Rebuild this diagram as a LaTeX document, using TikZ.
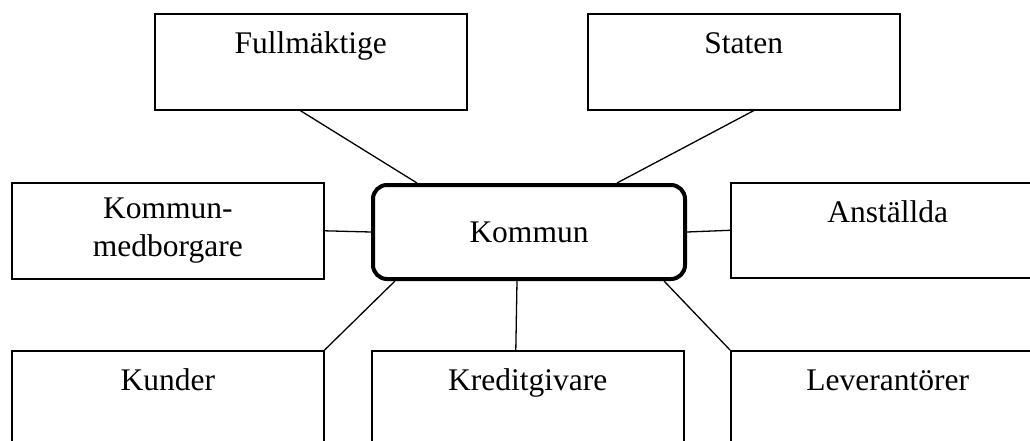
\documentclass[tikz,border=0pt]{standalone}
\usepackage{fontspec}
\setmainfont{Liberation Serif}
\begin{document}
\begin{tikzpicture}[x=1pt,y=-1pt,
  box/.style={draw, line width=1.6pt, rectangle, inner xsep=0pt, inner ysep=0pt,
    anchor=north west, minimum width=312pt, align=center,
    font=\fontsize{31.5}{38}\selectfont},
  topbox/.style={box, text height=40pt, text depth=56pt},
  center/.style={draw, line width=4pt, rectangle, rounded corners=14pt,
    minimum width=312pt, minimum height=94pt, inner sep=0pt, anchor=north west,
    font=\fontsize{31.5}{38}\selectfont},
  link/.style={line width=1.3pt}]
\useasboundingbox (0,0) rectangle (1030,441);
\clip (0,0) rectangle (1030,441);
\node[topbox] (f) at (154,13) {Fullmäktige};
\node[topbox] (s) at (587,13) {Staten};
\node[box, minimum height=96pt] (m) at (11,182) {Kommun-\\medborgare};
\node[center] (k) at (371,183) {Kommun};
\node[box, text height=40pt, text depth=55pt, minimum width=314pt] (a) at (730,182) {Anställda};
\node[box, text height=40pt, text depth=100pt] (ku) at (11,350) {Kunder};
\node[box, text height=40pt, text depth=100pt] (kr) at (371,350) {Kreditgivare};
\node[box, text height=40pt, text depth=100pt, minimum width=314pt] (l) at (730,350) {Leverantörer};
\draw[link] ([xshift=-10.5pt]f.south) -- ([xshift=-112pt]k.north);
\draw[link] ([xshift=10pt]s.south) -- ([xshift=88pt]k.north);
\draw[link] (m.east) -- (k.west);
\draw[link] (k.east) -- (a.west);
\draw[link] ([xshift=-134pt]k.south) -- (ku.north east);
\draw[link] ([xshift=-12pt]k.south) -- ([xshift=-12pt]kr.north);
\draw[link] ([xshift=135pt]k.south) -- (l.north west);
\end{tikzpicture}
\end{document}
